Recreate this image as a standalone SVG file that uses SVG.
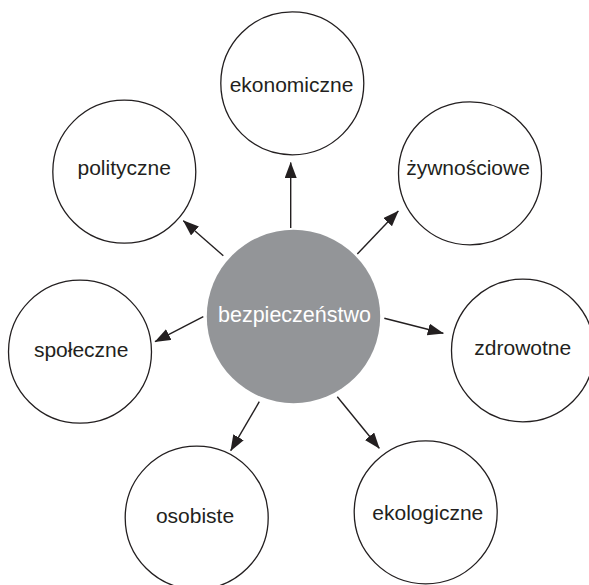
<svg xmlns="http://www.w3.org/2000/svg" width="589" height="585" viewBox="0 0 589 585">
<style>
.node{fill:#fff;stroke:#231f20;stroke-width:1.3}
.hub{fill:#939598;stroke:none}
.lbl{font-family:"Liberation Sans",Arial,sans-serif;font-size:21px;fill:#231f20;text-anchor:middle}
.hubl{font-family:"Liberation Sans",Arial,sans-serif;font-size:21.5px;fill:#fff;text-anchor:middle}
.edge{stroke:#231f20;stroke-width:1.4;fill:none;marker-end:url(#ah)}
</style>
<defs>
<marker id="ah" markerUnits="userSpaceOnUse" markerWidth="18" markerHeight="14" refX="15.5" refY="6" orient="auto">
<path d="M0,0 L16,6 L0,12 z" fill="#231f20"/>
</marker>
</defs>
<rect width="589" height="585" fill="#fff"/>
<g id="connectors">
<line class="edge" x1="290.7" y1="228" x2="290.7" y2="162.5"/>
<line class="edge" x1="357.3" y1="254" x2="398.3" y2="211"/>
<line class="edge" x1="384.3" y1="318.3" x2="443.3" y2="333.3"/>
<line class="edge" x1="337.3" y1="396.7" x2="379.3" y2="448.3"/>
<line class="edge" x1="259.3" y1="401.7" x2="230.7" y2="450.7"/>
<line class="edge" x1="203.3" y1="316.7" x2="155" y2="341.7"/>
<line class="edge" x1="223.3" y1="255.7" x2="183.3" y2="220.7"/>
</g>
<g id="hub">
<circle class="hub" cx="293.5" cy="316.5" r="86.7"/>
<text class="hubl" x="294.5" y="321.7">bezpieczeństwo</text>
</g>
<g id="ekonomiczne">
<circle class="node" cx="292.3" cy="83.3" r="71.5"/>
<text class="lbl" x="291.5" y="91.7">ekonomiczne</text>
</g>
<g id="zywnosciowe">
<circle class="node" cx="470" cy="173.3" r="71.5"/>
<text class="lbl" x="468" y="175">żywnościowe</text>
</g>
<g id="zdrowotne">
<circle class="node" cx="522.8" cy="350.5" r="71.3"/>
<text class="lbl" x="522.8" y="355">zdrowotne</text>
</g>
<g id="ekologiczne">
<circle class="node" cx="425.7" cy="512.3" r="71.5"/>
<text class="lbl" x="427.8" y="520">ekologiczne</text>
</g>
<g id="osobiste">
<circle class="node" cx="196.7" cy="517.7" r="71.5"/>
<text class="lbl" x="195" y="523.3">osobiste</text>
</g>
<g id="spoleczne">
<circle class="node" cx="80" cy="351.7" r="71.5"/>
<text class="lbl" x="81.2" y="356.7">społeczne</text>
</g>
<g id="polityczne">
<circle class="node" cx="124.3" cy="171.7" r="71.5"/>
<text class="lbl" x="124.2" y="175">polityczne</text>
</g>
</svg>
